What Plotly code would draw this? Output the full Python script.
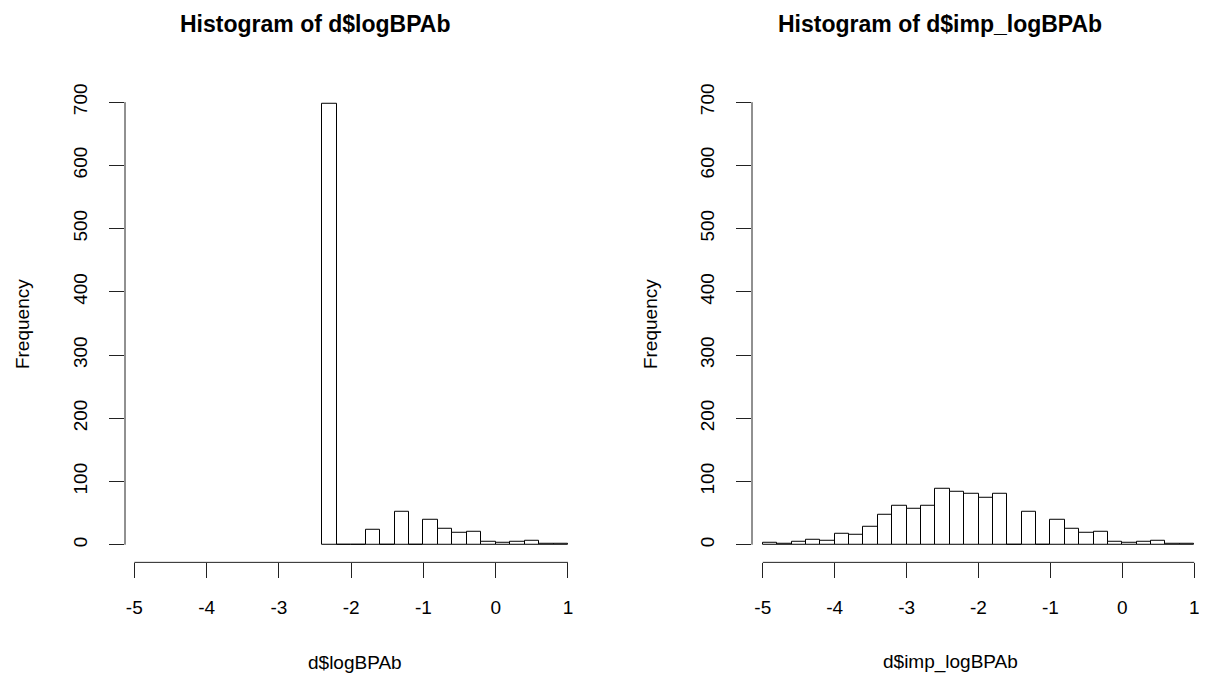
import plotly.graph_objects as go

# ---- data ----
bin_width = 0.2
left_start = -2.4
left_counts = [698, 0, 0, 24, 0, 52, 0, 39, 25, 19, 21, 5, 3, 4, 7, 1, 1]
right_start = -5.0
right_counts = [3, 2, 5, 8, 6, 18, 16, 29, 48, 62, 57, 61, 88, 83, 81,
                75, 80, 0, 52, 0, 40, 25, 19, 21, 5, 3, 4, 7, 1, 1]
x_ticks = [-5, -4, -3, -2, -1, 0, 1]
y_ticks = [0, 100, 200, 300, 400, 500, 600, 700]
titles = ["Histogram of d$logBPAb", "Histogram of d$imp_logBPAb"]
x_titles = ["d$logBPAb", "d$imp_logBPAb"]
y_title = "Frequency"

FONT = "Liberation Sans"
OFF = 8                      # default page body margin
W, H = 1207 - OFF, 686 - OFF

def px(xp):  # page x -> paper fraction
    return (xp - OFF) / W

def py(yp):  # page y -> paper fraction
    return 1 - (yp - OFF) / H

def centers(start, counts):
    return [start + bin_width * (i + 0.5) for i in range(len(counts))]

fig = go.Figure()
fig.add_trace(go.Bar(x=centers(left_start, left_counts), y=left_counts, width=bin_width,
                     marker=dict(color="white", line=dict(color="black", width=1)),
                     xaxis="x", yaxis="y", showlegend=False, hoverinfo="x+y"))
fig.add_trace(go.Bar(x=centers(right_start, right_counts), y=right_counts, width=bin_width,
                     marker=dict(color="white", line=dict(color="black", width=1)),
                     xaxis="x2", yaxis="y2", showlegend=False, hoverinfo="x+y"))

ydom = [py(562), py(84)]
xdom1 = [px(125), px(577.3)]
xdom2 = [px(752), px(1205)]
yrange = [-27.92, 725.92]

def xaxis(dom, rng, anchor):
    return dict(domain=dom, range=rng, anchor=anchor, showgrid=False, zeroline=False,
                showline=False, ticks="outside", ticklen=15, tickwidth=1, tickcolor="#222",
                tickvals=x_ticks, ticktext=[str(t) for t in x_ticks],
                tickfont=dict(family=FONT, size=19, color="black"), ticklabelstandoff=13)

def yaxis(dom, anchor):
    return dict(domain=dom, range=yrange, anchor=anchor, showgrid=False, zeroline=False,
                showline=False, ticks="outside", ticklen=15, tickwidth=1, tickcolor="#222",
                tickvals=y_ticks, ticktext=[str(t) for t in y_ticks], tickangle=-90,
                tickfont=dict(family=FONT, size=19, color="black"), ticklabelstandoff=14)

fig.update_layout(
    width=W, height=H, margin=dict(l=0, r=0, t=0, b=0),
    paper_bgcolor="white", plot_bgcolor="white", bargap=0,
    xaxis=xaxis(xdom1, [-5.129, 1.129], "y"),
    yaxis=yaxis(ydom, "x"),
    xaxis2=xaxis(xdom2, [-5.15, 1.15], "y2"),
    yaxis2=yaxis(ydom, "x2"),
)

shapes = []
annotations = []
panels = [("x", "y", xdom1, titles[0], x_titles[0], 315, 355, 22),
          ("x2", "y2", xdom2, titles[1], x_titles[1], 940, 950, 650)]
for xa, ya, dom, t, xt, tx, xtx, fx in panels:
    shapes.append(dict(type="line", xref=xa, yref=ya + " domain", x0=x_ticks[0], x1=x_ticks[-1],
                       y0=0, y1=0, line=dict(color="#222", width=1)))
    shapes.append(dict(type="line", xref=xa + " domain", yref=ya, x0=0, x1=0,
                       y0=y_ticks[0], y1=y_ticks[-1], line=dict(color="#222", width=1)))
    annotations.append(dict(text="<b>%s</b>" % t, xref="paper", yref="paper", x=px(tx), y=py(22),
                            showarrow=False, xanchor="center", yanchor="middle",
                            font=dict(family=FONT, size=23, color="black")))
    annotations.append(dict(text=xt, xref="paper", yref="paper", x=px(xtx), y=py(662),
                            showarrow=False, xanchor="center", yanchor="middle",
                            font=dict(family=FONT, size=19, color="black")))
    annotations.append(dict(text=y_title, xref="paper", yref="paper", x=px(fx),
                            y=py(323), textangle=-90,
                            showarrow=False, xanchor="center", yanchor="middle",
                            font=dict(family=FONT, size=19, color="black")))

fig.update_layout(shapes=shapes, annotations=annotations)
fig.write_html("out.html")
